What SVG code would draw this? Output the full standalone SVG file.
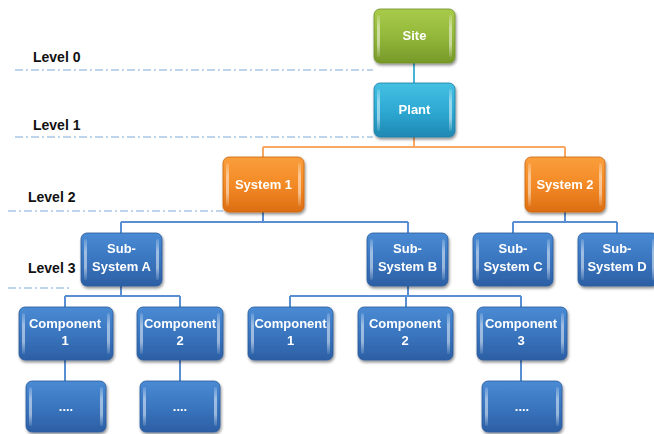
<svg xmlns="http://www.w3.org/2000/svg" width="654" height="434" viewBox="0 0 654 434">
  <defs>
    <linearGradient id="gGreen" x1="0" y1="0" x2="0" y2="1">
      <stop offset="0" stop-color="#a9cb4c"/>
      <stop offset="0.5" stop-color="#93b83a"/>
      <stop offset="1" stop-color="#77992a"/>
    </linearGradient>
    <linearGradient id="gCyan" x1="0" y1="0" x2="0" y2="1">
      <stop offset="0" stop-color="#44c0e2"/>
      <stop offset="0.5" stop-color="#2eaad4"/>
      <stop offset="1" stop-color="#1f88b2"/>
    </linearGradient>
    <linearGradient id="gOrange" x1="0" y1="0" x2="0" y2="1">
      <stop offset="0" stop-color="#fa9e3c"/>
      <stop offset="0.5" stop-color="#f38a26"/>
      <stop offset="1" stop-color="#dc6e12"/>
    </linearGradient>
    <linearGradient id="gBlue" x1="0" y1="0" x2="0" y2="1">
      <stop offset="0" stop-color="#4a8bd4"/>
      <stop offset="0.5" stop-color="#3a76c0"/>
      <stop offset="1" stop-color="#2c5fa4"/>
    </linearGradient>
    <linearGradient id="hl" x1="0" y1="0" x2="0" y2="1">
      <stop offset="0" stop-color="#ffffff" stop-opacity="0.15"/>
      <stop offset="0.3" stop-color="#ffffff" stop-opacity="0.5"/>
      <stop offset="0.7" stop-color="#ffffff" stop-opacity="0.5"/>
      <stop offset="1" stop-color="#ffffff" stop-opacity="0.1"/>
    </linearGradient>
    <filter id="shadow" x="-10%" y="-10%" width="130%" height="140%">
      <feGaussianBlur in="SourceAlpha" stdDeviation="1.6"/>
      <feOffset dx="1" dy="2" result="b"/>
      <feComponentTransfer><feFuncA type="linear" slope="0.45"/></feComponentTransfer>
      <feMerge><feMergeNode/><feMergeNode in="SourceGraphic"/></feMerge>
    </filter>
  </defs>
  <style>
    .lvl { font-family: "Liberation Sans", Arial, sans-serif; font-weight: bold; font-size: 14px; fill: #111; }
    .guide { stroke: #7ea9d8; stroke-width: 1.2; stroke-dasharray: 8 3 2 3; fill: none; }
    .lbl { font-family: "Liberation Sans", Arial, sans-serif; font-weight: bold; font-size: 13px; fill: #ffffff; text-anchor: middle; }
    .box { filter: url(#shadow); }
    .green { fill: url(#gGreen); stroke: #6f8f26; stroke-width: 0.8; }
    .cyan { fill: url(#gCyan); stroke: #1c7fa6; stroke-width: 0.8; }
    .orange { fill: url(#gOrange); stroke: #cc6410; stroke-width: 0.8; }
    .blue { fill: url(#gBlue); stroke: #285a9c; stroke-width: 0.8; }
    .hl { fill: url(#hl); }
    .c-cyan { stroke: #4ab4d6; stroke-width: 2; fill: none; }
    .c-orange { stroke: #f8a864; stroke-width: 2; fill: none; }
    .c-blue { stroke: #5a8ed2; stroke-width: 2; fill: none; }
  </style>

  <rect width="654" height="434" fill="#ffffff"/>

  <!-- level guides -->
  <g id="levels">
    <text class="lvl" x="33" y="62">Level 0</text>
    <line class="guide" x1="15" y1="70" x2="373" y2="70"/>
    <text class="lvl" x="33" y="130">Level 1</text>
    <line class="guide" x1="15" y1="137" x2="373" y2="137"/>
    <text class="lvl" x="28" y="202">Level 2</text>
    <line class="guide" x1="8" y1="211" x2="223" y2="211"/>
    <text class="lvl" x="28" y="273">Level 3</text>
    <line class="guide" x1="8" y1="288" x2="70" y2="288"/>
  </g>

  <!-- connectors -->
  <g id="connectors">
    <path class="c-cyan" d="M414 63 V83"/>
    <path class="c-orange" d="M414 137 V147 M263 147 H565 M263 147 V157 M565 147 V157"/>
    <path class="c-blue" d="M263 212 V222 M121 222 H408 M121 222 V233 M408 222 V233"/>
    <path class="c-blue" d="M565 212 V222 M513 222 H617 M513 222 V233 M617 222 V233"/>
    <path class="c-blue" d="M121 286 V296 M65 296 H180 M65 296 V307 M180 296 V307"/>
    <path class="c-blue" d="M408 286 V296 M290 296 H521 M290 296 V307 M406 296 V307 M521 296 V307"/>
    <path class="c-blue" d="M65 360 V381 M180 360 V381 M521 360 V381"/>
  </g>

  <!-- nodes -->
  <g id="site" class="box">
    <rect class="green" x="374" y="9" width="81" height="54" rx="6"/>
    <rect class="hl" x="377" y="15" width="3" height="42" rx="1.5"/>
    <rect class="hl" x="449" y="15" width="3" height="42" rx="1.5"/>
    <text class="lbl" x="414.5" y="40">Site</text>
  </g>
  <g id="plant" class="box">
    <rect class="cyan" x="374" y="83" width="81" height="54" rx="6"/>
    <rect class="hl" x="377" y="89" width="3" height="42" rx="1.5"/>
    <rect class="hl" x="449" y="89" width="3" height="42" rx="1.5"/>
    <text class="lbl" x="414.5" y="114">Plant</text>
  </g>
  <g id="system1" class="box">
    <rect class="orange" x="223" y="157" width="81" height="55" rx="6"/>
    <rect class="hl" x="226" y="163" width="3" height="43" rx="1.5"/>
    <rect class="hl" x="298" y="163" width="3" height="43" rx="1.5"/>
    <text class="lbl" x="263.5" y="189">System 1</text>
  </g>
  <g id="system2" class="box">
    <rect class="orange" x="525" y="157" width="80" height="55" rx="6"/>
    <rect class="hl" x="528" y="163" width="3" height="43" rx="1.5"/>
    <rect class="hl" x="599" y="163" width="3" height="43" rx="1.5"/>
    <text class="lbl" x="565" y="189">System 2</text>
  </g>

  <g id="subsystemA" class="box">
    <rect class="blue" x="81" y="233" width="81" height="53" rx="6"/>
    <rect class="hl" x="84" y="239" width="3" height="41" rx="1.5"/>
    <rect class="hl" x="156" y="239" width="3" height="41" rx="1.5"/>
    <text class="lbl" x="121.5" y="253">Sub-</text>
    <text class="lbl" x="121.5" y="271">System A</text>
  </g>
  <g id="subsystemB" class="box">
    <rect class="blue" x="367" y="233" width="81" height="53" rx="6"/>
    <rect class="hl" x="370" y="239" width="3" height="41" rx="1.5"/>
    <rect class="hl" x="442" y="239" width="3" height="41" rx="1.5"/>
    <text class="lbl" x="407.5" y="253">Sub-</text>
    <text class="lbl" x="407.5" y="271">System B</text>
  </g>
  <g id="subsystemC" class="box">
    <rect class="blue" x="473" y="233" width="80" height="53" rx="6"/>
    <rect class="hl" x="476" y="239" width="3" height="41" rx="1.5"/>
    <rect class="hl" x="547" y="239" width="3" height="41" rx="1.5"/>
    <text class="lbl" x="513" y="253">Sub-</text>
    <text class="lbl" x="513" y="271">System C</text>
  </g>
  <g id="subsystemD" class="box">
    <rect class="blue" x="578" y="233" width="80" height="53" rx="6"/>
    <rect class="hl" x="581" y="239" width="3" height="41" rx="1.5"/>
    <rect class="hl" x="652" y="239" width="3" height="41" rx="1.5"/>
    <text class="lbl" x="617" y="253">Sub-</text>
    <text class="lbl" x="617" y="271">System D</text>
  </g>

  <g id="componentA1" class="box">
    <rect class="blue" x="19" y="307" width="94" height="53" rx="6"/>
    <rect class="hl" x="22" y="313" width="3" height="41" rx="1.5"/>
    <rect class="hl" x="107" y="313" width="3" height="41" rx="1.5"/>
    <text class="lbl" x="65" y="328">Component</text>
    <text class="lbl" x="65" y="345">1</text>
  </g>
  <g id="componentA2" class="box">
    <rect class="blue" x="137" y="307" width="86" height="53" rx="6"/>
    <rect class="hl" x="140" y="313" width="3" height="41" rx="1.5"/>
    <rect class="hl" x="217" y="313" width="3" height="41" rx="1.5"/>
    <text class="lbl" x="180" y="328">Component</text>
    <text class="lbl" x="180" y="345">2</text>
  </g>
  <g id="componentB1" class="box">
    <rect class="blue" x="248" y="307" width="85" height="53" rx="6"/>
    <rect class="hl" x="251" y="313" width="3" height="41" rx="1.5"/>
    <rect class="hl" x="327" y="313" width="3" height="41" rx="1.5"/>
    <text class="lbl" x="290.5" y="328">Component</text>
    <text class="lbl" x="290.5" y="345">1</text>
  </g>
  <g id="componentB2" class="box">
    <rect class="blue" x="358" y="307" width="95" height="53" rx="6"/>
    <rect class="hl" x="361" y="313" width="3" height="41" rx="1.5"/>
    <rect class="hl" x="447" y="313" width="3" height="41" rx="1.5"/>
    <text class="lbl" x="405" y="328">Component</text>
    <text class="lbl" x="405" y="345">2</text>
  </g>
  <g id="componentB3" class="box">
    <rect class="blue" x="477" y="307" width="90" height="53" rx="6"/>
    <rect class="hl" x="480" y="313" width="3" height="41" rx="1.5"/>
    <rect class="hl" x="561" y="313" width="3" height="41" rx="1.5"/>
    <text class="lbl" x="521" y="328">Component</text>
    <text class="lbl" x="521" y="345">3</text>
  </g>

  <g id="detailA1" class="box">
    <rect class="blue" x="26" y="381" width="80" height="51" rx="6"/>
    <rect class="hl" x="29" y="387" width="3" height="39" rx="1.5"/>
    <rect class="hl" x="100" y="387" width="3" height="39" rx="1.5"/>
    <text class="lbl" x="66" y="411">....</text>
  </g>
  <g id="detailA2" class="box">
    <rect class="blue" x="140" y="381" width="80" height="51" rx="6"/>
    <rect class="hl" x="143" y="387" width="3" height="39" rx="1.5"/>
    <rect class="hl" x="214" y="387" width="3" height="39" rx="1.5"/>
    <text class="lbl" x="180" y="411">....</text>
  </g>
  <g id="detailB3" class="box">
    <rect class="blue" x="482" y="381" width="80" height="51" rx="6"/>
    <rect class="hl" x="485" y="387" width="3" height="39" rx="1.5"/>
    <rect class="hl" x="556" y="387" width="3" height="39" rx="1.5"/>
    <text class="lbl" x="522" y="411">....</text>
  </g>
</svg>
